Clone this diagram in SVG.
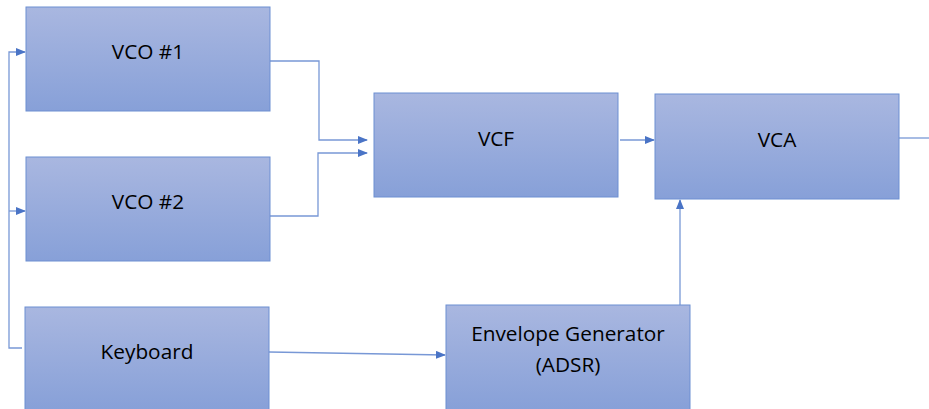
<svg xmlns="http://www.w3.org/2000/svg" width="929" height="409" viewBox="0 0 929 409">
<defs>
<linearGradient id="g" x1="0" y1="0" x2="0" y2="1">
<stop offset="0" stop-color="#a9b7e0"/>
<stop offset="1" stop-color="#87a0d8"/>
</linearGradient>
<marker id="a" markerWidth="10" markerHeight="8" refX="9" refY="4" orient="auto" markerUnits="userSpaceOnUse">
<path d="M0,0 L10,4 L0,8 Z" fill="#4a74c6"/>
</marker>
</defs>
<style>
.box{fill:url(#g);stroke:#6d8fd2;stroke-width:1}
.lbl{font-family:"Open Sans","Liberation Sans",sans-serif;font-size:20.8px;fill:#000;text-anchor:middle}
.c{fill:none;stroke:#7898d6;stroke-width:1.3}
</style>
<rect width="929" height="409" fill="#fff"/>
<g id="connectors">
<polyline class="c" points="22,348 9,348 9,52 25,52" marker-end="url(#a)"/>
<polyline class="c" points="9,211 25,211" marker-end="url(#a)"/>
<polyline class="c" points="270,61 319,61 319,140 367,140" marker-end="url(#a)"/>
<polyline class="c" points="270,216 318,216 318,153 367,153" marker-end="url(#a)"/>
<polyline class="c" points="620,140 654,140" marker-end="url(#a)"/>
<polyline class="c" points="899,138 929,138"/>
<polyline class="c" points="680,305 680,200" marker-end="url(#a)"/>
<polyline class="c" points="269,352 445,355" marker-end="url(#a)"/>
</g>
<g id="vco1"><rect class="box" x="26" y="7" width="244" height="104"/><text class="lbl" x="148" y="59">VCO #1</text></g>
<g id="vco2"><rect class="box" x="26" y="157" width="244" height="104"/><text class="lbl" x="148" y="209">VCO #2</text></g>
<g id="keyboard"><rect class="box" x="25" y="307" width="244" height="103"/><text class="lbl" x="147" y="359">Keyboard</text></g>
<g id="vcf"><rect class="box" x="374" y="93" width="244" height="104"/><text class="lbl" x="496" y="146">VCF</text></g>
<g id="vca"><rect class="box" x="655" y="94" width="244" height="105"/><text class="lbl" x="777" y="147">VCA</text></g>
<g id="env"><rect class="box" x="446" y="305" width="244" height="105"/><text class="lbl" x="568" y="341">Envelope Generator</text><text class="lbl" x="568" y="372">(ADSR)</text></g>
</svg>
